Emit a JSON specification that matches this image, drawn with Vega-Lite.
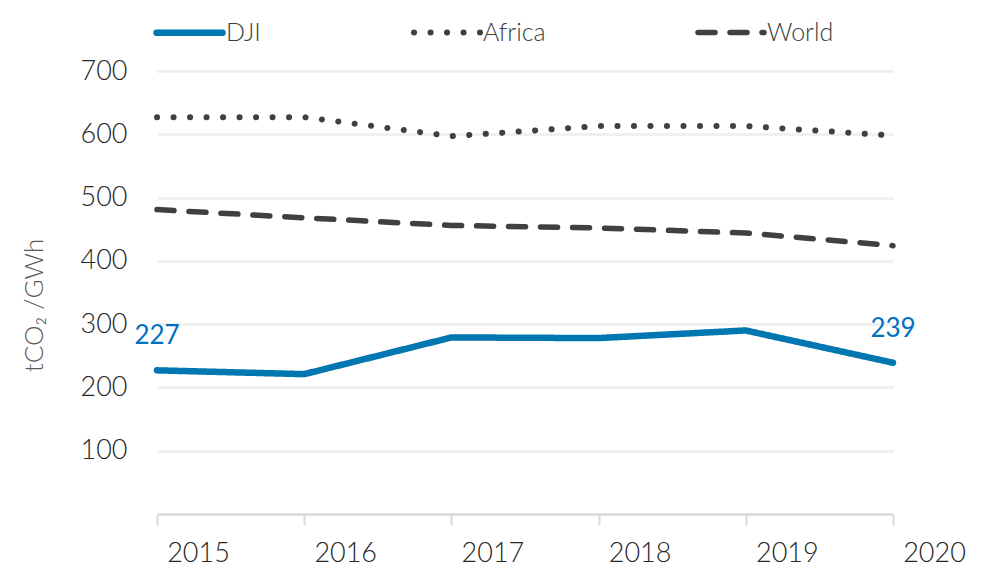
{
  "$schema": "https://vega.github.io/schema/vega-lite/v6.json",
  "width": 736,
  "height": 443,
  "autosize": {"type": "none"},
  "padding": {"left": 157, "top": 71, "right": 103, "bottom": 52},
  "background": "white",
  "config": {
    "view": {"stroke": null},
    "font": "Lato",
    "text": {"font": "Lato"}
  },
  "data": {
    "values": [
      {"year": 2015, "series": "DJI", "value": 227},
      {"year": 2016, "series": "DJI", "value": 221},
      {"year": 2017, "series": "DJI", "value": 279},
      {"year": 2018, "series": "DJI", "value": 278},
      {"year": 2019, "series": "DJI", "value": 290},
      {"year": 2020, "series": "DJI", "value": 239},
      {"year": 2015, "series": "Africa", "value": 627},
      {"year": 2016, "series": "Africa", "value": 627},
      {"year": 2017, "series": "Africa", "value": 597},
      {"year": 2018, "series": "Africa", "value": 613},
      {"year": 2019, "series": "Africa", "value": 613},
      {"year": 2020, "series": "Africa", "value": 598},
      {"year": 2015, "series": "World", "value": 481},
      {"year": 2016, "series": "World", "value": 468},
      {"year": 2017, "series": "World", "value": 456},
      {"year": 2018, "series": "World", "value": 452},
      {"year": 2019, "series": "World", "value": 444},
      {"year": 2020, "series": "World", "value": 424}
    ]
  },
  "layer": [
    {
      "mark": {"type": "line", "strokeCap": "round", "strokeJoin": "round"},
      "encoding": {
        "x": {
          "field": "year", "type": "quantitative",
          "scale": {"domain": [2015, 2020], "nice": false, "zero": false},
          "axis": {
            "values": [2015, 2016, 2017, 2018, 2019, 2020],
            "format": "d", "title": null, "grid": false,
            "domainColor": "#d9d9d9", "domainWidth": 2.5,
            "tickColor": "#d9d9d9", "tickWidth": 2, "tickSize": 11,
            "labelFontSize": 27, "labelColor": "#262626", "labelFontWeight": 300,
            "labelOffset": 41, "labelPadding": 15, "labelFlush": false
          }
        },
        "y": {
          "field": "value", "type": "quantitative",
          "scale": {"domain": [0, 700], "nice": false},
          "axis": {
            "values": [100, 200, 300, 400, 500, 600, 700],
            "title": "tCO₂ /GWh",
            "titleFontSize": 26, "titleColor": "#595959", "titleFontWeight": 300,
            "titleY": 234, "titlePadding": 33,
            "domain": false, "ticks": false,
            "gridColor": "#f0f0f0", "gridWidth": 3,
            "labelFontSize": 27, "labelColor": "#262626", "labelFontWeight": 300,
            "labelPadding": 30
          }
        },
        "color": {
          "field": "series", "type": "nominal",
          "scale": {"domain": ["DJI", "Africa", "World"], "range": ["#0077b0", "#404040", "#404040"]},
          "legend": {
            "title": null, "orient": "none", "direction": "horizontal",
            "legendX": -4, "legendY": -75,
            "symbolType": "stroke", "symbolSize": 4356, "symbolStrokeWidth": 7,
            "labelFontSize": 25, "labelColor": "#404040", "labelFontWeight": 300,
            "labelOffset": 0, "columnPadding": 141,
            "encode": {"symbols": {"update": {"strokeCap": {"value": "round"}}}}
          }
        },
        "strokeDash": {
          "field": "series", "type": "nominal",
          "scale": {"domain": ["DJI", "Africa", "World"], "range": [[1, 0], [0.1, 16.4], [17, 15]]},
          "legend": null
        },
        "strokeWidth": {
          "field": "series", "type": "nominal",
          "scale": {"domain": ["DJI", "Africa", "World"], "range": [6.5, 5.5, 7]},
          "legend": null
        }
      }
    },
    {
      "transform": [{"filter": "datum.series === 'DJI' && (datum.year === 2015 || datum.year === 2020)"}],
      "mark": {"type": "text", "dy": -34, "fontSize": 26, "color": "#0070c0", "align": "center", "baseline": "middle", "fontWeight": "normal"},
      "encoding": {
        "x": {"field": "year", "type": "quantitative"},
        "y": {"field": "value", "type": "quantitative"},
        "text": {"field": "value", "type": "quantitative"}
      }
    }
  ]
}
